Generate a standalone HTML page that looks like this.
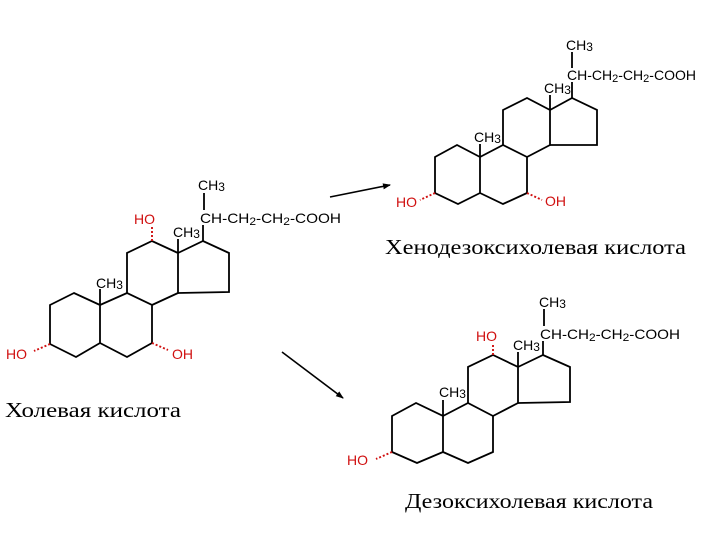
<!DOCTYPE html>
<html><head><meta charset="utf-8"><style>
html,body{margin:0;padding:0;background:#fff;width:720px;height:540px;overflow:hidden}
svg{display:block}
.b{stroke:#000;stroke-width:1.8;fill:none;stroke-linejoin:miter}
.c{font-family:"Liberation Sans",sans-serif;font-size:14px;fill:#000}
.r{fill:#d01010}
.w{stroke:#d01010;stroke-width:1.9;stroke-dasharray:2 2;fill:none}
.t{font-family:"Liberation Serif","Noto Serif CJK SC",serif;font-size:21px;fill:#000}
</style></head><body>
<svg width="720" height="540" viewBox="0 0 720 540" xmlns="http://www.w3.org/2000/svg">
<defs><marker id="a" markerWidth="8" markerHeight="6" refX="7" refY="3" orient="auto" markerUnits="userSpaceOnUse"><path d="M0,0 L8,3 L0,6z" fill="#000"/></marker></defs>

<!-- Cholic acid -->
<g class="b">
<polygon points="74,293 50,305 50,344 76,357 100,343 100,305"/>
<polyline points="100,305 127,293 152,305 152,343 127,357 100,343"/>
<polyline points="127,293 127,253 152,241 178,253 178,293 152,305"/>
<polyline points="178,253 203,241 229,253 229,292 178,293"/>
<line x1="100" y1="305" x2="100" y2="289"/>
<line x1="178" y1="253" x2="178" y2="239"/>
<line x1="203" y1="241" x2="203" y2="225"/>
<line x1="204" y1="193" x2="204" y2="210"/>
</g>
<line class="w" x1="152" y1="241" x2="152" y2="226"/>
<line class="w" x1="50" y1="344" x2="34" y2="351"/>
<line class="w" x1="152" y1="343" x2="168" y2="350"/>
<text class="c" x="96" y="288">CH<tspan font-size="12" dy="1">3</tspan></text>
<text class="c" x="173" y="237">CH<tspan font-size="12" dy="1">3</tspan></text>
<text class="c" x="198" y="190">CH<tspan font-size="12" dy="1">3</tspan></text>
<text class="c" x="200" y="223" textLength="141" lengthAdjust="spacingAndGlyphs">CH-CH<tspan font-size="11" dy="2">2</tspan><tspan dy="-2">-CH</tspan><tspan font-size="11" dy="2">2</tspan><tspan dy="-2">-COOH</tspan></text>
<text class="c r" x="134" y="224">HO</text>
<text class="c r" x="6" y="359">HO</text>
<text class="c r" x="172" y="359">OH</text>

<!-- Chenodeoxycholic acid -->
<g class="b">
<polygon points="457,145 435,157 435,193 458,204 480,193 480,157"/>
<polyline points="480,157 503,145 527,157 527,193 503,204 480,193"/>
<polyline points="503,145 503,110 527,98 550,110 550,145 527,157"/>
<polyline points="550,110 572,98 597,110 597,145 550,145"/>
<line x1="480" y1="157" x2="480" y2="144"/>
<line x1="550" y1="110" x2="550" y2="95"/>
<line x1="572" y1="98" x2="572" y2="82"/>
<line x1="572" y1="52" x2="572" y2="68"/>
</g>
<line class="w" x1="435" y1="193" x2="420" y2="200"/>
<line class="w" x1="527" y1="193" x2="542" y2="200"/>
<text class="c" x="474" y="142">CH<tspan font-size="12" dy="1">3</tspan></text>
<text class="c" x="544" y="93">CH<tspan font-size="12" dy="1">3</tspan></text>
<text class="c" x="566" y="50">CH<tspan font-size="12" dy="1">3</tspan></text>
<text class="c" x="567" y="80" textLength="129" lengthAdjust="spacingAndGlyphs">CH-CH<tspan font-size="11" dy="2">2</tspan><tspan dy="-2">-CH</tspan><tspan font-size="11" dy="2">2</tspan><tspan dy="-2">-COOH</tspan></text>
<text class="c r" x="396" y="207">HO</text>
<text class="c r" x="545" y="206">OH</text>

<!-- Deoxycholic acid -->
<g class="b">
<polygon points="416,403 392,416 392,452 417,463 443,452 443,416"/>
<polyline points="443,416 468,403 493,416 493,452 468,463 443,452"/>
<polyline points="468,403 468,367 493,355 518,367 518,403 493,416"/>
<polyline points="518,367 543,355 570,367 570,402 518,403"/>
<line x1="443" y1="416" x2="443" y2="400"/>
<line x1="518" y1="367" x2="518" y2="352"/>
<line x1="543" y1="355" x2="543" y2="341"/>
<line x1="544" y1="309" x2="544" y2="326"/>
</g>
<line class="w" x1="493" y1="355" x2="493" y2="343"/>
<line class="w" x1="392" y1="452" x2="376" y2="459"/>
<text class="c" x="439" y="397">CH<tspan font-size="12" dy="1">3</tspan></text>
<text class="c" x="513" y="350">CH<tspan font-size="12" dy="1">3</tspan></text>
<text class="c" x="539" y="307">CH<tspan font-size="12" dy="1">3</tspan></text>
<text class="c" x="540" y="339" textLength="140" lengthAdjust="spacingAndGlyphs">CH-CH<tspan font-size="11" dy="2">2</tspan><tspan dy="-2">-CH</tspan><tspan font-size="11" dy="2">2</tspan><tspan dy="-2">-COOH</tspan></text>
<text class="c r" x="476" y="341">HO</text>
<text class="c r" x="347" y="465">HO</text>

<!-- arrows -->
<line x1="330" y1="197" x2="390" y2="185" stroke="#000" stroke-width="1.6" marker-end="url(#a)"/>
<line x1="282" y1="352" x2="343" y2="398" stroke="#000" stroke-width="1.6" marker-end="url(#a)"/>

<!-- captions -->
<text class="t" x="385" y="254" textLength="301" lengthAdjust="spacingAndGlyphs">Хенодезоксихолевая кислота</text>
<text class="t" x="5" y="417" textLength="176" lengthAdjust="spacingAndGlyphs">Холевая кислота</text>
<text class="t" x="405" y="508" textLength="248" lengthAdjust="spacingAndGlyphs">Дезоксихолевая кислота</text>
</svg>
</body></html>
